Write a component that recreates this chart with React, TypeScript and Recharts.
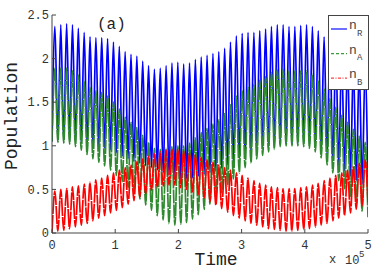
import React from "react";
import { LineChart, Line, XAxis, YAxis, Legend } from "recharts";

// one value per half-cycle (time in units of 1e5)
const bluePeaks = [2.37, 2.39, 2.4, 2.39, 2.35, 2.3, 2.25, 2.24, 2.24, 2.23, 2.19, 2.14, 2.08, 2.05, 2.03, 1.97, 1.92, 1.88, 1.89, 1.92, 1.95, 1.96, 1.94, 1.95, 1.99, 2.02, 2.04, 2.06, 2.08, 2.12, 2.19, 2.26, 2.29, 2.3, 2.3, 2.32, 2.34, 2.37, 2.39, 2.39, 2.37, 2.37, 2.38, 2.39, 2.37, 2.32, 2.25, 2.17, 2.1, 2.04, 1.99, 1.95, 1.91, 1.88];
const blueTroughs = [1.05, 1.06, 1.06, 1.07, 1.06, 1.04, 1.01, 0.99, 0.98, 0.97, 0.95, 0.92, 0.88, 0.85, 0.82, 0.8, 0.77, 0.75, 0.72, 0.69, 0.66, 0.64, 0.62, 0.62, 0.63, 0.65, 0.67, 0.69, 0.71, 0.74, 0.78, 0.82, 0.86, 0.89, 0.91, 0.94, 0.96, 0.98, 1.0, 1.02, 1.02, 1.02, 1.03, 1.03, 1.02, 1.0, 0.95, 0.89, 0.83, 0.77, 0.71, 0.65, 0.6, 0.56, 0.53];
const greenPeaks = [1.89, 1.89, 1.89, 1.86, 1.81, 1.74, 1.67, 1.63, 1.61, 1.57, 1.5, 1.42, 1.33, 1.27, 1.21, 1.12, 1.04, 0.97, 0.96, 0.97, 0.99, 1.0, 1.0, 1.03, 1.09, 1.15, 1.2, 1.25, 1.3, 1.37, 1.47, 1.57, 1.63, 1.67, 1.7, 1.75, 1.79, 1.84, 1.87, 1.88, 1.86, 1.86, 1.86, 1.86, 1.82, 1.75, 1.65, 1.54, 1.44, 1.35, 1.27, 1.19, 1.11, 1.04];
const greenTroughs = [1.05, 1.04, 1.03, 1.02, 0.99, 0.95, 0.9, 0.85, 0.81, 0.77, 0.72, 0.66, 0.59, 0.52, 0.45, 0.39, 0.32, 0.26, 0.2, 0.15, 0.11, 0.09, 0.1, 0.12, 0.16, 0.21, 0.27, 0.33, 0.39, 0.46, 0.54, 0.62, 0.69, 0.75, 0.8, 0.85, 0.89, 0.93, 0.96, 0.99, 1.0, 1.0, 1.0, 0.99, 0.97, 0.93, 0.86, 0.78, 0.69, 0.6, 0.51, 0.42, 0.33, 0.25, 0.18];
const redPeaks = [0.48, 0.5, 0.51, 0.53, 0.54, 0.56, 0.58, 0.61, 0.63, 0.66, 0.69, 0.72, 0.75, 0.78, 0.82, 0.85, 0.88, 0.91, 0.93, 0.95, 0.96, 0.96, 0.94, 0.92, 0.9, 0.87, 0.84, 0.81, 0.78, 0.75, 0.72, 0.69, 0.66, 0.63, 0.6, 0.57, 0.55, 0.53, 0.52, 0.51, 0.51, 0.51, 0.52, 0.53, 0.55, 0.57, 0.6, 0.63, 0.66, 0.69, 0.72, 0.76, 0.8, 0.84];
const redTroughs = [0.0, 0.02, 0.03, 0.05, 0.07, 0.09, 0.11, 0.14, 0.17, 0.2, 0.23, 0.26, 0.29, 0.33, 0.37, 0.41, 0.45, 0.49, 0.52, 0.54, 0.55, 0.55, 0.52, 0.5, 0.47, 0.44, 0.4, 0.36, 0.32, 0.28, 0.24, 0.2, 0.17, 0.14, 0.11, 0.09, 0.07, 0.05, 0.04, 0.03, 0.02, 0.02, 0.03, 0.04, 0.05, 0.07, 0.09, 0.11, 0.14, 0.17, 0.2, 0.23, 0.27, 0.31, 0.35];

const xTicks = [0, 1, 2, 3, 4, 5];
const yTicks = [0, 0.5, 1, 1.5, 2, 2.5];
const tMax = 5;

const period = tMax / bluePeaks.length;
const data: { t: number; nR: number; nA: number; nB: number }[] = [];
blueTroughs.forEach((_, k) => {
  data.push({ t: k * period, nR: blueTroughs[k], nA: greenTroughs[k], nB: redTroughs[k] });
  if (k < bluePeaks.length) {
    data.push({ t: (k + 0.5) * period, nR: bluePeaks[k], nA: greenPeaks[k], nB: redPeaks[k] });
  }
});

const FONT = "'Liberation Mono', 'DejaVu Sans Mono', monospace";
const AXIS = "#444";

const legendRows = [
  { sub: "R", color: "#2020ff", dash: undefined },
  { sub: "A", color: "#3a9a3a", dash: "3 2" },
  { sub: "B", color: "#ff4040", dash: "3 1.5 1 1.5" },
];

const renderLegend = () => (
  <svg width={41} height={75} style={{ display: "block" }}>
    <rect x={0.5} y={0.5} width={40} height={74} fill="#fff" stroke={AXIS} />
    {legendRows.map((r, i) => {
      const y = 14 + i * 24.6;
      return (
        <g key={r.sub}>
          <line x1={3} x2={19} y1={y} y2={y} stroke={r.color} strokeWidth={1.3} strokeDasharray={r.dash} />
          <text x={21} y={y} fontFamily={FONT} fontSize={13} fill="#444">n</text>
          <text x={29} y={y + 6.5} fontFamily={FONT} fontSize={9} fill="#444">{r.sub}</text>
        </g>
      );
    })}
  </svg>
);

export default function App() {
  return (
    <div style={{ position: "absolute", left: 0, top: 0, background: "#fff" }}>
      <LineChart width={374} height={270} data={data} margin={{ top: 15, right: 6, bottom: 0, left: 0 }}>
        <XAxis
          dataKey="t"
          type="number"
          domain={[0, tMax]}
          ticks={xTicks}
          allowDataOverflow
          height={37}
          stroke={AXIS}
          tickSize={-4}
          tickMargin={11}
          tick={{ fontFamily: FONT, fontSize: 12, fill: "#333" }}
        />
        <XAxis
          xAxisId="top"
          orientation="top"
          dataKey="t"
          type="number"
          domain={[0, tMax]}
          ticks={xTicks}
          height={0}
          stroke={AXIS}
          tickSize={-4}
          tickFormatter={() => ""}
        />
        <YAxis
          type="number"
          domain={[0, 2.5]}
          ticks={yTicks}
          width={52}
          stroke={AXIS}
          tickSize={-4}
          tickMargin={7}
          tick={{ fontFamily: FONT, fontSize: 12, fill: "#333" }}
        />
        <YAxis
          yAxisId="right"
          orientation="right"
          type="number"
          domain={[0, 2.5]}
          ticks={yTicks}
          width={0}
          stroke={AXIS}
          tickSize={-4}
          tickFormatter={() => ""}
        />
        <Legend
          layout="horizontal"
          align="center"
          verticalAlign="middle"
          wrapperStyle={{ left: 328, top: 15, width: 41, height: 75 }}
          content={renderLegend}
        />
        <Line dataKey="nR" type="monotone" stroke="#0000ff" strokeWidth={1.7} dot={false} isAnimationActive={false} />
        <Line dataKey="nA" type="monotone" stroke="#2f8a2f" strokeWidth={1.7} strokeDasharray="14 1" dot={false} isAnimationActive={false} />
        <Line dataKey="nB" type="monotone" stroke="#ff0000" strokeWidth={1.7} strokeDasharray="18 1" dot={false} isAnimationActive={false} />
        <text x={97} y={29} fontFamily={FONT} fontSize={16} fill="#222">(a)</text>
        <text x={216} y={265} textAnchor="middle" fontFamily={FONT} fontSize={18} fill="#222">Time</text>
        <text x={17} y={116} transform="rotate(-90 17 116)" textAnchor="middle" fontFamily={FONT} fontSize={18} fill="#222">Population</text>
        <text x={329} y={263} fontFamily={FONT} fontSize={12} fill="#333">x</text>
        <text x={345} y={264} fontFamily={FONT} fontSize={12} fill="#333">10</text>
        <text x={359} y={257} fontFamily={FONT} fontSize={9} fill="#333">5</text>
      </LineChart>
    </div>
  );
}
